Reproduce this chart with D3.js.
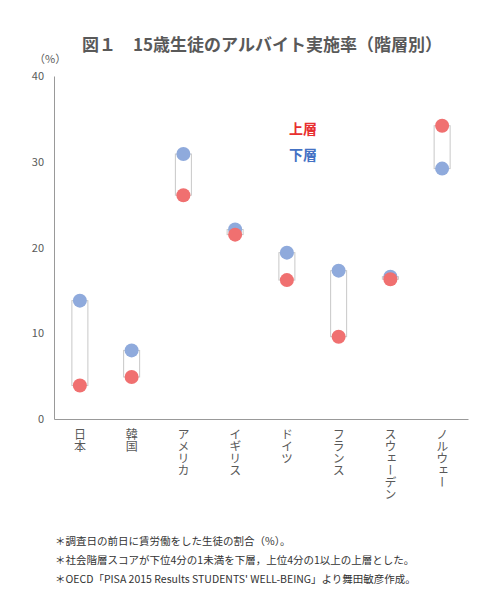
<!DOCTYPE html><html><head><meta charset="utf-8"><script src="https://cdn.jsdelivr.net/npm/d3@7"></script>
<style>body{margin:0;background:#fff}text{font-family:"Noto Sans CJK JP",sans-serif}</style></head><body><svg id="c" width="500" height="614"></svg><script>
const categories=["日本","韓国","アメリカ","イギリス","ドイツ","フランス","スウェーデン","ノルウェー"];
const upperStratum=[3.9,4.9,26.1,21.5,16.2,9.6,16.3,34.2];
const lowerStratum=[13.8,8.0,30.9,22.1,19.4,17.3,16.6,29.2];
const yTicks=[0,10,20,30,40];
const svg=d3.select("#c");
const x=d3.scaleBand().domain(categories).range([54,468]);
const y=d3.scaleLinear().domain([0,40]).range([419,76]);
svg.append("text").attr("x",262).attr("y",51).attr("text-anchor","middle").attr("font-size",17).attr("font-weight","bold").attr("fill","#595959").text("図１　15歳生徒のアルバイト実施率（階層別）");
svg.append("text").attr("x",34).attr("y",63).attr("font-size",11).attr("fill","#595959").text("（%）");
const yAxis=svg.append("g").attr("transform","translate(54,0)").call(d3.axisLeft(y).tickValues(yTicks).tickSize(0).tickPadding(10));
const xAxis=svg.append("g").attr("transform","translate(0,419)").call(d3.axisBottom(x).tickSize(0).tickFormat(""));
[yAxis,xAxis].forEach(g=>{g.select(".domain").attr("stroke","#999");g.selectAll("text").attr("font-size",11).attr("fill","#595959").attr("font-family","Noto Sans CJK JP");});
categories.forEach((c,i)=>{
 const cx=x(c)+x.bandwidth()/2;
 const a=Math.max(upperStratum[i],lowerStratum[i]),b=Math.min(upperStratum[i],lowerStratum[i]);
 svg.append("rect").attr("x",cx-8).attr("y",y(a)).attr("width",16).attr("height",y(b)-y(a)).attr("fill","none").attr("stroke","#c8c8c8").attr("stroke-width",1);
 svg.append("circle").attr("cx",cx).attr("cy",y(lowerStratum[i])).attr("r",7).attr("fill","#8faadc");
 svg.append("circle").attr("cx",cx).attr("cy",y(upperStratum[i])).attr("r",7).attr("fill","#f07070");
 svg.append("text").attr("x",cx).attr("y",428).attr("font-size",12).attr("fill","#595959").style("writing-mode","vertical-rl").text(c);
});
svg.append("text").attr("x",289).attr("y",134).attr("font-size",14).attr("font-weight","bold").attr("fill","#e83030").text("上層");
svg.append("text").attr("x",289).attr("y",160).attr("font-size",14).attr("font-weight","bold").attr("fill","#4472c4").text("下層");
const notes=["＊調査日の前日に賃労働をした生徒の割合（%）。","＊社会階層スコアが下位4分の1未満を下層，上位4分の1以上の上層とした。","＊OECD「PISA 2015 Results STUDENTS' WELL-BEING」より舞田敏彦作成。"];
notes.forEach((t,i)=>svg.append("text").attr("x",55).attr("y",545+i*19).attr("font-size",10.5).attr("fill","#333").text(t));
</script></body></html>
